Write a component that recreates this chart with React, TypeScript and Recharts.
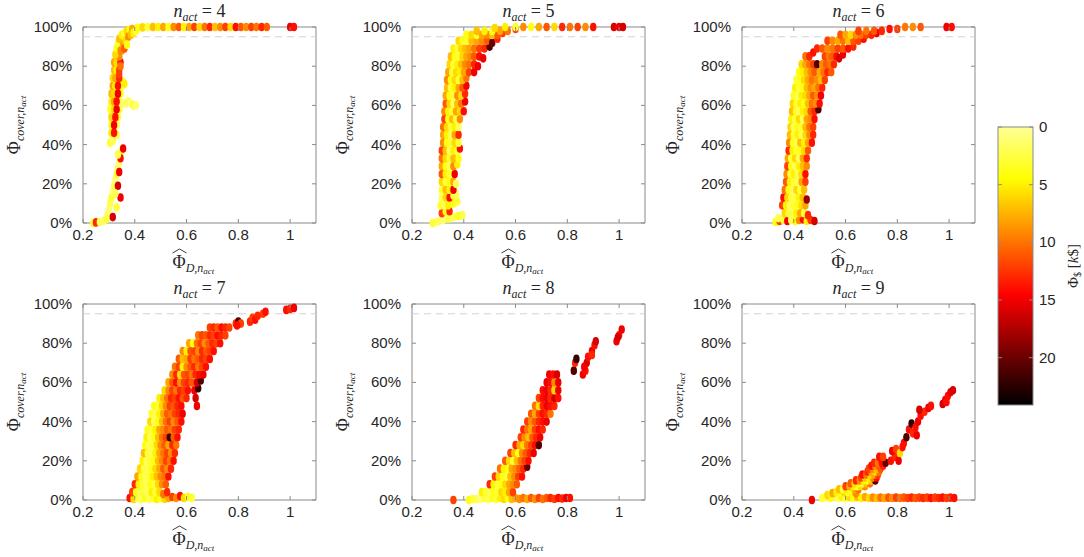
import React from 'react';
import { ScatterChart, Scatter, XAxis, YAxis, ReferenceLine, ReferenceArea } from 'recharts';

// each point: [normalised detection Phi_D, coverage %, cost k$]
type Pt = [number, number, number];

const X_TICKS = [0.2, 0.4, 0.6, 0.8, 1];
const Y_TICKS = [0, 20, 40, 60, 80, 100];
const CBAR_TICKS = [0, 5, 10, 15, 20];
const CBAR_MAX = 24.1;
const COVER_TARGET = 95;

const pts4: Pt[] = [
  [0.24,0,3],[0.25,0.3,13],[0.265,0.5,2],[0.28,1,1],[0.29,2,3],[0.295,4,2],[0.30,7,1],[0.305,10,2],[0.31,13,3],
  [0.315,16,1],[0.32,19,2],[0.325,22,1],[0.33,25,3],[0.335,28,2],[0.34,31,1],[0.345,34,2],[0.35,37,3],[0.355,38,15],
  [0.345,33,14],[0.34,26,15],[0.335,19,16],[0.345,13,15],[0.33,8,3],[0.315,3,16],[0.325,15,2],[0.335,35,2],
  [0.305,41,3],[0.315,42,2],[0.31,46,5],[0.33,45,3],[0.31,50,4],[0.33,50,2],[0.31,54,6],[0.335,54,3],
  [0.305,58,3],[0.32,58,6],[0.34,58,4],[0.31,62,5],[0.32,62,8],[0.34,62,2],[0.31,66,7],[0.32,66,6],[0.345,66,4],
  [0.315,70,8],[0.325,70,5],[0.35,70,3],[0.315,74,6],[0.325,74,8],[0.32,78,7],[0.33,78,5],[0.32,82,8],[0.33,82,6],
  [0.355,72,3],[0.36,71,5],[0.345,60,1],[0.355,61,2],[0.365,61,1],[0.375,62,2],[0.385,61,1],[0.395,60,3],[0.405,60,1],
  [0.32,46,14],[0.32,50,15],[0.325,54,14],[0.33,58,15],[0.33,62,14],[0.335,66,15],[0.335,70,14],[0.34,74,13],
  [0.34,78,12],[0.345,82,14],[0.34,85,9],[0.35,88,8],[0.345,80,10],[0.34,76,12],
  [0.325,86,6],[0.33,89,4],[0.335,92,3],[0.34,94,7],[0.35,96,5],[0.36,97,3],[0.37,98,6],[0.38,98.5,4],[0.39,99,8],
  [0.345,88,9],[0.355,91,8],[0.365,93,6],[0.375,95,9],[0.385,96,7],[0.395,97,5],[0.405,98,3],[0.36,89,11],[0.37,91,4],
  [0.41,99.6,4],[0.43,99.8,6],[0.45,100,3],[0.47,100,7],[0.49,100,5],[0.51,100,8],[0.53,100,4],[0.55,100,9],
  [0.57,100,11],[0.59,100,5],[0.61,100,8],[0.63,100,12],[0.65,100,6],[0.67,100,10],[0.69,100,13],[0.71,100,7],
  [0.73,100,9],[0.75,100,12],[0.77,100,6],[0.79,100,14],[0.81,100,11],[0.83,100,9],[0.85,100,12],[0.87,100,10],
  [0.89,100,13],[0.91,100,11],[1.0,100,15],[1.015,100,14],
];

const pts5: Pt[] = [
  [0.28,0,3],[0.30,0.8,2],[0.32,1.5,1],[0.34,2.2,3],[0.36,3,2],[0.38,3.6,4],[0.395,4,2],
  [0.315,5,12],[0.33,6,4],[0.345,6,13],
  [0.31,9,3],[0.325,9,2],[0.34,9,5],[0.36,10,4],[0.375,11,3],
  [0.315,13,2],[0.33,13,6],[0.345,13,14],[0.36,14,3],[0.37,15,2],
  [0.315,17,3],[0.33,17,7],[0.345,17,5],[0.36,17,15],
  [0.315,21,6],[0.33,21,3],[0.345,21,4],[0.36,21,8],[0.37,20,2],
  [0.315,25,11],[0.33,25,5],[0.345,25,3],[0.365,25,15],
  [0.315,29,8],[0.33,29,4],[0.345,29,2],[0.36,29,9],[0.375,30,5],
  [0.315,33,10],[0.33,33,6],[0.345,33,3],[0.36,33,7],[0.38,33,4],
  [0.315,37,12],[0.33,37,7],[0.345,37,2],[0.36,37,5],[0.375,37,3],[0.385,38,14],
  [0.32,41,9],[0.335,41,4],[0.35,41,3],[0.365,41,6],[0.38,41,3],
  [0.32,45,8],[0.335,45,5],[0.35,45,2],[0.365,45,8],[0.38,45,13],
  [0.32,49,10],[0.335,49,6],[0.35,49,3],[0.365,49,5],[0.38,49,2],
  [0.325,53,12],[0.34,53,4],[0.355,53,7],[0.37,53,3],[0.385,53,9],
  [0.325,57,9],[0.34,57,5],[0.355,57,3],[0.37,57,8],[0.385,57,6],[0.4,57,14],
  [0.33,61,11],[0.345,61,6],[0.36,61,2],[0.375,61,7],[0.39,61,10],[0.405,62,15],
  [0.33,65,8],[0.345,65,4],[0.36,65,3],[0.375,65,9],[0.39,65,6],[0.405,66,13],
  [0.335,69,7],[0.35,69,3],[0.365,69,5],[0.38,69,8],[0.395,69,11],[0.41,70,15],
  [0.335,73,9],[0.35,73,4],[0.365,73,6],[0.38,73,3],[0.395,73,7],[0.41,74,10],
  [0.34,77,8],[0.355,77,3],[0.37,77,6],[0.385,77,5],[0.40,77,8],[0.42,77,12],[0.44,77,15],
  [0.345,81,6],[0.36,81,3],[0.375,81,5],[0.39,81,7],[0.405,81,9],[0.42,81,10],[0.44,81,13],[0.455,80,15],
  [0.35,85,7],[0.365,85,4],[0.38,85,3],[0.395,85,6],[0.41,85,8],[0.425,85,9],[0.44,85,11],[0.46,85,14],[0.475,84,15],
  [0.36,89,5],[0.375,89,3],[0.39,89,6],[0.405,89,7],[0.42,89,8],[0.44,89,10],[0.46,89,12],[0.48,89,13],[0.5,90,21],
  [0.38,93,6],[0.395,93,4],[0.41,93,3],[0.43,93,7],[0.45,93,8],[0.47,93,9],[0.49,93,11],[0.51,92,20],[0.53,94,13],
  [0.41,96,4],[0.43,96,6],[0.45,96,3],[0.47,96,8],[0.49,96,9],[0.51,96,7],[0.53,96,11],[0.55,97,12],
  [0.45,98,7],[0.48,98,5],[0.51,98,4],[0.54,98,8],[0.57,98,10],[0.60,99,12],
  [0.52,99.5,6],[0.56,100,5],[0.60,100,3],[0.63,100,9],[0.66,100,4],[0.69,100,8],[0.72,100,11],[0.75,100,6],
  [0.78,100,13],[0.81,100,10],[0.84,100,12],[0.87,100,9],[0.90,100,14],[0.98,100,16],[1.0,100,15],[1.015,100,16],
];

const pts6: Pt[] = [
  [0.33,0.5,4],[0.345,1,12],[0.36,1.5,3],[0.375,1,15],[0.39,1.5,2],[0.405,1,4],[0.42,1.5,9],[0.435,2,14],
  [0.45,1,5],[0.465,1.5,12],[0.48,1,16],[0.34,2.5,2],
  [0.365,5,6],[0.38,5,3],[0.395,5,2],[0.41,5,5],[0.425,5,8],[0.44,5,3],[0.455,4,13],
  [0.355,9,12],[0.37,9,5],[0.385,9,2],[0.40,9,3],[0.415,9,4],[0.43,9,6],[0.445,9,8],
  [0.36,13,14],[0.375,13,6],[0.39,13,3],[0.405,13,2],[0.42,13,5],[0.435,13,7],[0.45,12,18],
  [0.365,17,10],[0.38,17,4],[0.395,17,2],[0.41,17,6],[0.425,17,3],[0.44,17,7],
  [0.37,21,11],[0.385,21,5],[0.40,21,3],[0.415,21,2],[0.43,21,8],[0.445,21,12],
  [0.372,25,9],[0.387,25,3],[0.40,25,5],[0.415,25,2],[0.43,25,6],[0.445,25,14],
  [0.375,29,12],[0.39,29,4],[0.405,29,2],[0.42,29,5],[0.435,29,7],[0.45,29,9],
  [0.377,33,8],[0.39,33,3],[0.405,33,6],[0.42,33,2],[0.435,33,8],[0.45,33,13],
  [0.38,37,13],[0.395,37,5],[0.41,37,3],[0.425,37,4],[0.44,37,6],[0.455,37,11],
  [0.382,41,9],[0.397,41,4],[0.41,41,2],[0.425,41,7],[0.44,41,5],[0.455,41,8],[0.47,41,14],
  [0.385,45,7],[0.40,45,3],[0.415,45,5],[0.43,45,2],[0.445,45,6],[0.46,45,9],[0.475,45,13],
  [0.387,49,6],[0.40,49,2],[0.415,49,4],[0.43,49,3],[0.445,49,7],[0.46,49,10],[0.475,49,12],
  [0.39,53,5],[0.405,53,3],[0.42,53,6],[0.435,53,2],[0.45,53,8],[0.465,53,9],[0.48,53,14],
  [0.393,57,7],[0.408,57,4],[0.42,57,2],[0.435,57,5],[0.45,57,6],[0.465,57,11],[0.48,57,13],[0.495,58,21],
  [0.396,61,6],[0.41,61,3],[0.425,61,5],[0.44,61,4],[0.455,61,7],[0.47,61,10],[0.485,61,9],[0.50,61,14],
  [0.40,65,4],[0.415,65,2],[0.43,65,5],[0.445,65,6],[0.46,65,8],[0.475,65,11],[0.49,65,9],[0.505,65,15],
  [0.405,69,5],[0.42,69,3],[0.435,69,4],[0.45,69,7],[0.465,69,9],[0.48,69,8],[0.495,69,10],[0.51,69,13],
  [0.41,73,3],[0.425,73,4],[0.44,73,6],[0.455,73,8],[0.47,73,10],[0.49,73,9],[0.505,73,7],[0.52,73,12],
  [0.42,77,4],[0.435,77,5],[0.45,77,7],[0.465,77,9],[0.48,77,11],[0.50,77,8],[0.515,77,10],[0.53,77,13],[0.545,77,11],
  [0.43,81,6],[0.445,81,8],[0.46,81,10],[0.475,81,12],[0.49,81,21],[0.51,81,9],[0.525,81,11],[0.54,81,10],[0.555,81,13],
  [0.445,85,10],[0.46,85,13],[0.475,87,14],[0.52,85,12],[0.535,85,10],[0.55,85,11],[0.565,85,14],[0.575,84,16],[0.59,86,15],
  [0.49,89,13],[0.51,89,11],[0.53,89,9],[0.55,89,10],[0.57,89,12],[0.59,89,11],[0.61,89,14],[0.63,90,13],
  [0.53,93,12],[0.55,93,9],[0.57,93,8],[0.59,93,10],[0.61,93,7],[0.63,93,11],[0.65,93,12],[0.67,94,14],
  [0.58,96,11],[0.60,96,8],[0.62,96,6],[0.64,96,9],[0.66,96,10],[0.68,96,12],[0.70,96,13],[0.72,97,15],
  [0.65,98,12],[0.68,98,10],[0.71,98,11],[0.74,98,13],[0.77,99,14],[0.80,99,12],
  [0.83,100,10],[0.86,100,9],[0.89,100,11],[0.99,100,15],[1.01,100,14],
];

const pts7: Pt[] = [
  [0.38,1,14],[0.395,0.5,6],[0.41,1,3],[0.425,0.5,2],[0.44,1,4],[0.455,0.5,2],[0.47,1,3],[0.485,0.5,5],[0.50,1,4],
  [0.515,0.5,6],[0.53,1,8],[0.545,1.5,12],[0.56,1,9],[0.575,2,14],[0.59,1,6],[0.605,1.5,4],[0.62,1,3],
  [0.39,4,12],[0.405,4,4],[0.42,4,2],[0.435,4,3],[0.45,4,2],[0.465,4,5],[0.48,4,3],[0.495,4,6],[0.51,3,10],[0.525,4,13],
  [0.40,8,13],[0.415,8,5],[0.43,8,3],[0.445,8,2],[0.46,8,4],[0.475,8,3],[0.49,8,6],[0.505,8,9],[0.52,8,11],
  [0.41,12,8],[0.425,12,4],[0.44,12,2],[0.455,12,3],[0.47,12,5],[0.485,12,7],[0.50,12,9],[0.515,12,10],[0.53,12,14],
  [0.42,16,6],[0.435,16,3],[0.45,16,2],[0.465,16,4],[0.48,16,6],[0.495,16,8],[0.51,16,11],[0.525,16,9],[0.54,16,13],
  [0.43,20,5],[0.445,20,2],[0.46,20,3],[0.475,20,4],[0.49,20,7],[0.505,20,9],[0.52,20,12],[0.535,20,10],[0.55,20,14],
  [0.435,24,7],[0.45,24,3],[0.465,24,2],[0.48,24,5],[0.495,24,8],[0.51,24,10],[0.525,24,12],[0.54,24,9],[0.555,24,13],
  [0.44,28,4],[0.455,28,2],[0.47,28,3],[0.485,28,6],[0.50,28,9],[0.515,28,11],[0.53,28,8],[0.545,28,13],[0.56,28,10],
  [0.445,32,5],[0.46,32,2],[0.475,32,4],[0.49,32,7],[0.505,32,10],[0.52,32,12],[0.535,32,22],[0.55,32,11],[0.565,32,14],
  [0.45,36,4],[0.465,36,3],[0.48,36,5],[0.495,36,8],[0.51,36,9],[0.525,36,11],[0.54,36,10],[0.555,36,12],[0.57,36,13],
  [0.46,40,6],[0.475,40,2],[0.49,40,4],[0.505,40,7],[0.52,40,10],[0.535,40,12],[0.55,40,9],[0.565,40,11],[0.58,40,14],
  [0.465,44,3],[0.48,44,2],[0.495,44,5],[0.51,44,8],[0.525,44,11],[0.54,44,10],[0.555,44,12],[0.57,44,13],[0.585,44,15],
  [0.475,48,4],[0.49,48,3],[0.505,48,6],[0.52,48,9],[0.535,48,12],[0.55,48,11],[0.565,48,13],[0.58,48,14],[0.64,48,15],
  [0.495,52,5],[0.51,52,7],[0.525,52,10],[0.54,52,13],[0.555,52,12],[0.57,52,14],[0.585,52,11],[0.60,52,13],[0.635,52,16],
  [0.515,56,6],[0.53,56,9],[0.545,56,12],[0.56,56,10],[0.575,56,13],[0.59,56,12],[0.605,56,14],[0.63,56,15],[0.645,57,22],
  [0.53,60,8],[0.545,60,11],[0.56,60,14],[0.575,60,9],[0.59,60,12],[0.605,60,13],[0.62,60,11],[0.64,60,16],[0.655,61,21],
  [0.545,64,9],[0.56,64,13],[0.575,64,6],[0.59,64,11],[0.605,64,12],[0.62,64,10],[0.635,64,13],[0.65,64,14],[0.665,64,15],
  [0.555,68,10],[0.57,68,12],[0.585,68,5],[0.60,68,9],[0.615,68,11],[0.63,68,13],[0.645,68,10],[0.66,68,12],[0.675,68,14],
  [0.57,72,11],[0.585,72,7],[0.60,72,8],[0.615,72,12],[0.63,72,10],[0.645,72,11],[0.66,72,13],[0.675,72,12],[0.69,72,14],
  [0.585,76,9],[0.60,76,5],[0.615,76,11],[0.63,76,12],[0.645,76,9],[0.66,76,13],[0.675,76,11],[0.69,76,12],[0.705,76,14],
  [0.61,80,8],[0.625,80,4],[0.64,80,10],[0.655,80,12],[0.67,80,9],[0.685,80,11],[0.70,80,13],[0.715,80,12],[0.73,80,14],
  [0.645,84,10],[0.66,84,12],[0.675,84,11],[0.69,84,13],[0.705,84,12],[0.72,84,14],[0.735,84,13],[0.75,84,12],
  [0.69,88,12],[0.705,88,13],[0.72,88,11],[0.735,88,14],[0.75,88,13],[0.765,88,12],
  [0.79,90,13],[0.80,91,21],[0.81,90,12],[0.795,89,14],[0.845,91,13],[0.855,93,12],[0.865,92,14],[0.875,94,13],
  [0.895,95,12],[0.905,96,14],[0.985,97,14],[1.0,97.5,13],[1.015,98,15],
];

const pts8: Pt[] = [
  [0.36,0,12],[0.42,0,4],[0.435,0.5,3],[0.45,0.5,2],[0.465,0.5,1],[0.48,1,3],[0.495,0.5,2],[0.51,1,4],[0.525,0.5,3],
  [0.54,1,5],[0.555,0.5,6],[0.57,1,4],[0.585,0.5,7],[0.60,1,8],[0.615,0.5,9],[0.63,1,10],[0.645,0.5,8],[0.66,1,11],
  [0.675,0.5,9],[0.69,1,12],[0.705,0.5,10],[0.72,1,11],[0.735,1,13],[0.75,0.5,12],[0.765,1,14],[0.78,0.8,13],
  [0.795,1,15],[0.81,1,14],
  [0.47,4,5],[0.485,4,3],[0.50,4,2],[0.515,4,4],[0.53,4,3],[0.545,4,6],[0.56,4,5],[0.575,4,8],[0.59,4,12],
  [0.50,8,13],[0.515,8,5],[0.53,8,3],[0.545,8,4],[0.56,8,6],[0.575,8,8],[0.59,8,9],[0.605,8,11],
  [0.52,12,12],[0.535,12,6],[0.55,12,4],[0.565,12,3],[0.58,12,7],[0.595,12,9],[0.61,12,12],[0.625,12,14],
  [0.54,16,10],[0.555,16,5],[0.57,16,4],[0.585,16,8],[0.60,16,9],[0.615,16,11],[0.63,16,13],[0.645,17,20],
  [0.56,20,11],[0.575,20,6],[0.59,20,3],[0.605,20,7],[0.62,20,10],[0.635,20,12],[0.65,20,14],
  [0.58,24,12],[0.595,24,7],[0.61,24,4],[0.625,24,9],[0.64,24,11],[0.655,24,13],[0.67,24,15],
  [0.60,28,13],[0.615,28,8],[0.63,28,6],[0.645,28,10],[0.66,28,12],[0.675,28,14],[0.69,28,21],
  [0.62,32,12],[0.635,32,9],[0.65,32,7],[0.665,32,11],[0.68,32,13],[0.695,32,15],
  [0.63,36,13],[0.645,36,10],[0.66,36,8],[0.675,36,12],[0.69,36,14],[0.705,36,13],
  [0.645,40,12],[0.66,40,9],[0.675,40,11],[0.69,40,13],[0.705,40,14],[0.72,40,15],
  [0.66,44,11],[0.675,44,8],[0.69,44,12],[0.705,44,14],[0.72,44,13],[0.735,44,10],
  [0.675,48,10],[0.69,48,6],[0.705,48,13],[0.72,48,15],[0.735,48,14],[0.75,48,13],
  [0.69,52,12],[0.705,52,14],[0.72,52,15],[0.735,52,13],[0.75,52,16],[0.765,52,14],
  [0.705,56,14],[0.72,56,15],[0.735,56,13],[0.75,56,6],[0.765,56,15],
  [0.72,60,15],[0.735,60,14],[0.75,60,9],[0.765,60,15],
  [0.73,64,15],[0.745,64,14],[0.76,64,16],
  [0.825,66,21],[0.83,70,13],[0.835,72,22],[0.86,64,15],[0.87,66,14],[0.875,70,16],[0.865,68,15],[0.88,73,14],
  [0.895,76,15],[0.905,79,14],[0.91,81,16],[0.895,74,13],[0.99,81,15],[1.0,84,14],[1.01,87,15],[0.995,83,16],
];

const pts9: Pt[] = [
  [0.47,0,15],[0.51,1,3],[0.525,1.5,2],[0.54,1,4],[0.555,1.8,3],[0.57,1,2],[0.585,1.5,5],[0.60,1,3],[0.615,1.5,6],
  [0.63,1,4],[0.645,1.5,7],[0.66,1,5],[0.675,1.5,8],[0.69,1,6],[0.705,1.2,9],[0.72,1,7],[0.735,1.2,10],[0.75,1,8],
  [0.765,1.2,11],[0.78,1,9],[0.795,1.2,12],[0.81,1,10],[0.825,1.2,11],[0.84,1,12],[0.855,1.2,13],[0.87,1,11],
  [0.885,1.2,12],[0.90,1,13],[0.915,1.2,12],[0.93,1,14],[0.945,1.2,12],[0.96,1,13],[0.975,1.2,14],[0.99,1,12],
  [1.005,1.2,13],[1.02,1,14],
  [0.53,2.5,6],[0.545,3,4],
  [0.55,3.5,8],[0.565,4,5],[0.58,4,4],[0.595,4,6],[0.61,4,3],[0.625,4,5],[0.64,3.5,9],
  [0.575,5.5,7],[0.59,5.5,3],[0.605,5.5,5],[0.62,5.5,4],[0.635,5.5,8],[0.65,5.5,10],
  [0.60,7,12],[0.615,7,8],[0.63,7,5],[0.645,7,3],[0.66,7,6],[0.675,7,9],
  [0.62,8.5,11],[0.635,8.5,6],[0.65,8.5,4],[0.665,8.5,3],[0.68,8.5,7],[0.695,8.5,10],
  [0.64,10,13],[0.655,10,9],[0.67,10,5],[0.685,10,4],[0.70,10,7],[0.715,10,21],
  [0.66,11.5,12],[0.675,11.5,7],[0.69,11.5,5],[0.705,11.5,9],[0.72,11.5,14],
  [0.665,13,14],[0.68,13,10],[0.695,13,6],[0.71,13,8],[0.725,13,12],
  [0.685,14.5,13],[0.70,14.5,8],[0.715,14.5,6],[0.73,14.5,10],
  [0.69,16,12],[0.705,16,9],[0.72,16,7],[0.735,16,11],
  [0.70,17.5,14],[0.715,17.5,9],[0.73,17.5,11],[0.745,17.5,13],
  [0.71,19,13],[0.725,19,10],[0.74,19,14],[0.755,19,20],
  [0.73,22,14],[0.745,22,12],
  [0.775,20,14],[0.79,22,13],[0.805,20,15],[0.78,25,15],[0.795,26,12],[0.81,24,6],[0.82,27,14],
  [0.825,29,14],[0.835,32,21],[0.845,36,14],[0.855,39,22],[0.86,34,13],[0.875,33,15],[0.87,37,14],
  [0.88,40,15],[0.89,43,14],[0.905,45,13],[0.92,47,15],[0.93,48,14],[0.885,46,16],
  [0.975,49,16],[0.985,51,15],[0.995,53,14],[1.005,55,15],[1.015,56,16],[0.99,50,14],
];

const N_ACT = [4, 5, 6, 7, 8, 9];
const PANEL_POINTS = [pts4, pts5, pts6, pts7, pts8, pts9];

// reversed "hot" colormap
const HEAT_STOPS: [number, number[]][] = [
  [0, [255, 255, 150]],
  [4.5, [255, 255, 0]],
  [14.5, [255, 0, 0]],
  [24, [0, 0, 0]],
];
const heat = (v: number) => {
  for (let i = 1; i < HEAT_STOPS.length; i++) {
    const [v1, c1] = HEAT_STOPS[i];
    const [v0, c0] = HEAT_STOPS[i - 1];
    if (v <= v1 || i === HEAT_STOPS.length - 1) {
      const t = Math.max(0, Math.min(1, (v - v0) / (v1 - v0)));
      const c = c0.map((a, k) => Math.round(a + (c1[k] - a) * t));
      return `rgb(${c[0]},${c[1]},${c[2]})`;
    }
  }
  return '#000';
};

const PW = 233;
const PH = 196;
const ML = 70;
const MT = 30;
const AXIS = '#8a8a8a';
const TXT = '#262626';
const SANS = '"Liberation Sans", Arial, sans-serif';
const SERIF = '"Liberation Serif", "DejaVu Serif", serif';
const COLS = [83, 412, 742];
const ROWS = [27, 304];

const YTick = (props: any) => {
  const { x, y, payload } = props;
  const ax = x + 11;
  return (
    <g>
      <line x1={ax} x2={ax + 4} y1={y} y2={y} stroke={AXIS} />
      <line x1={ax + PW - 4} x2={ax + PW} y1={y} y2={y} stroke={AXIS} />
      <text x={x} y={y} dy={5} textAnchor="end" fontSize={15} fontFamily={SANS} fill={TXT}>
        {payload.value}%
      </text>
    </g>
  );
};

const XTick = (props: any) => {
  const { x, y, payload } = props;
  const ay = y - 2;
  return (
    <g>
      <line x1={x} x2={x} y1={ay} y2={ay - 4} stroke={AXIS} />
      <line x1={x} x2={x} y1={ay - PH} y2={ay - PH + 4} stroke={AXIS} />
      <text x={x} y={ay + 17} textAnchor="middle" fontSize={15} fontFamily={SANS} fill={TXT}>
        {payload.value}
      </text>
    </g>
  );
};

const Dot = (props: any) => (
  <ellipse cx={props.cx} cy={props.cy} rx={3.2} ry={4.3} fill={heat(props.payload.c)} />
);

const Panel = ({ points, left, top }: { points: Pt[]; left: number; top: number }) => {
  const rows = points.map(([x, y, c]) => ({ x, y, c }));
  return (
    <div style={{ position: 'absolute', left: left - ML, top: top - MT }}>
      <ScatterChart width={ML + PW + 10} height={MT + PH + 24} margin={{ top: MT, right: 10, bottom: 0, left: 0 }}>
        <XAxis type="number" dataKey="x" domain={[0.2, 1.1]} ticks={X_TICKS} interval={0}
          tickSize={0} tickMargin={2} tickLine={false} axisLine={false} height={24}
          tick={(p: any) => <XTick {...p} />} />
        <YAxis type="number" dataKey="y" domain={[0, 100]} ticks={Y_TICKS} interval={0}
          tickSize={0} tickMargin={11} tickLine={false} axisLine={false} width={ML}
          tick={(p: any) => <YTick {...p} />} />
        <ReferenceLine y={COVER_TARGET} stroke="#d2d2d2" strokeDasharray="7 5" />
        <ReferenceArea x1={0.2} x2={1.1} y1={0} y2={100} fill="none" stroke={AXIS} />
        <Scatter data={rows} isAnimationActive={false} shape={Dot} />
      </ScatterChart>
    </div>
  );
};

const Labels = ({ n, left, top }: { n: number; left: number; top: number }) => {
  const cx = left + PW / 2;
  const bx = top + PH + 45;
  const cy = top + PH / 2;
  return (
    <g fill={TXT} fontFamily={SERIF}>
      <text x={cx} y={top - 10} textAnchor="middle" fontSize={18}>
        <tspan fontStyle="italic">n</tspan>
        <tspan fontStyle="italic" fontSize={12} dy={4}>act</tspan>
        <tspan dy={-4}> = {n}</tspan>
      </text>
      <text x={cx - 27} y={bx} fontSize={18}>
        Φ
        <tspan fontStyle="italic" fontSize={12} dy={4}>D,n</tspan>
        <tspan fontStyle="italic" fontSize={9} dy={2}>act</tspan>
      </text>
      <path d={`M${cx - 27} ${bx - 15} L${cx - 20} ${bx - 19} L${cx - 13} ${bx - 15}`} fill="none" stroke={TXT} strokeWidth={0.9} />
      <text transform={`translate(${left - 63},${cy}) rotate(-90)`} textAnchor="middle" fontSize={18}>
        Φ
        <tspan fontStyle="italic" fontSize={12} dy={4}>cover,n</tspan>
        <tspan fontStyle="italic" fontSize={9} dy={2}>act</tspan>
      </text>
    </g>
  );
};

const CB = { x: 998, y: 127, w: 35, h: 278 };

const ColorBar = () => {
  const yOf = (v: number) => CB.y + (v / CBAR_MAX) * CB.h;
  const stops = [0, 2, 4.5, 7, 10, 12, 14.5, 17, 20, 22, CBAR_MAX];
  return (
    <g>
      <defs>
        <linearGradient id="heatGrad" x1="0" y1="0" x2="0" y2="1">
          {stops.map((v) => (
            <stop key={v} offset={`${(v / CBAR_MAX) * 100}%`} stopColor={heat(v)} />
          ))}
        </linearGradient>
      </defs>
      <rect x={CB.x} y={CB.y} width={CB.w} height={CB.h} fill="url(#heatGrad)" stroke={AXIS} />
      {CBAR_TICKS.map((v) => (
        <g key={v}>
          <line x1={CB.x} x2={CB.x + 4} y1={yOf(v)} y2={yOf(v)} stroke={AXIS} />
          <line x1={CB.x + CB.w - 4} x2={CB.x + CB.w} y1={yOf(v)} y2={yOf(v)} stroke={AXIS} />
          <text x={CB.x + CB.w + 6} y={yOf(v)} dy={5} fontSize={15} fontFamily={SANS} fill={TXT}>{v}</text>
        </g>
      ))}
      <text transform={`translate(1078,266) rotate(-90)`} textAnchor="middle" fontSize={15} fontFamily={SERIF} fill={TXT}>
        Φ<tspan fontSize={10} dy={3}>$</tspan><tspan dy={-3}> [</tspan><tspan fontStyle="italic">k</tspan>$]
      </text>
    </g>
  );
};

export default function App() {
  return (
    <div style={{ position: 'absolute', left: 0, top: 0, width: 1084, height: 557, background: '#fff', overflow: 'hidden' }}>
      {PANEL_POINTS.map((pts, i) => (
        <Panel key={i} points={pts} left={COLS[i % 3]} top={ROWS[Math.floor(i / 3)]} />
      ))}
      <svg width={1084} height={557} style={{ position: 'absolute', left: 0, top: 0, pointerEvents: 'none' }}>
        {N_ACT.map((n, i) => (
          <Labels key={n} n={n} left={COLS[i % 3]} top={ROWS[Math.floor(i / 3)]} />
        ))}
        <ColorBar />
      </svg>
    </div>
  );
}
